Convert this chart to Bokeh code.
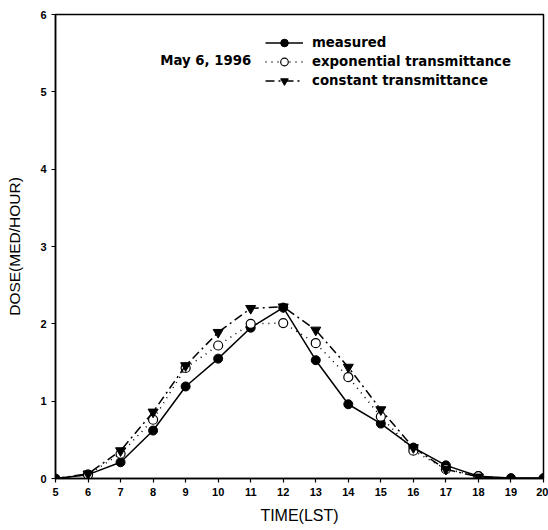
from bokeh.plotting import figure
from bokeh.models import Legend, LegendItem, Label, FixedTicker
from bokeh.embed import file_html
from bokeh.resources import INLINE

# Hourly UV dose, May 6, 1996
hours = [5, 6, 7, 8, 9, 10, 11, 12, 13, 14, 15, 16, 17, 18, 19, 20]
measured = [0.0, 0.05, 0.21, 0.62, 1.19, 1.55, 1.95, 2.21, 1.53, 0.96, 0.71, 0.40, 0.17, 0.03, 0.005, 0.005]
exponential = [0.0, 0.05, 0.32, 0.76, 1.43, 1.72, 2.00, 2.01, 1.75, 1.31, 0.80, 0.36, 0.12, 0.03, 0.0, 0.0]
constant = [0.0, 0.06, 0.36, 0.86, 1.46, 1.89, 2.20, 2.22, 1.92, 1.44, 0.89, 0.40, 0.12, 0.02, 0.0, 0.0]

FONT = "Liberation Sans"
KEY_FONT = "DejaVu Sans"

p = figure(width=548, height=530, x_range=(5, 20), y_range=(0, 6),
           output_backend="svg", toolbar_location=None,
           min_border_left=55, min_border_right=5, min_border_top=14, min_border_bottom=52)
p.background_fill_color = "white"
p.border_fill_color = "white"
p.outline_line_color = "black"
p.outline_line_width = 1.5
p.xgrid.visible = False
p.ygrid.visible = False

for ax in (p.xaxis[0], p.yaxis[0]):
    ax.axis_line_width = 1.5
    ax.axis_line_color = "black"
    ax.major_tick_line_color = "black"
    ax.major_tick_line_width = 1.2
    ax.major_tick_in = 0
    ax.major_tick_out = 4
    ax.minor_tick_line_color = None
    ax.major_label_text_color = "black"
    ax.major_label_text_font = FONT
    ax.major_label_text_font_style = "bold"
    ax.major_label_text_font_size = "11px"
    ax.axis_label_text_color = "black"
    ax.axis_label_text_font = FONT
    ax.axis_label_text_font_style = "normal"
    ax.axis_label_text_font_size = "15.5px"
    ax.major_label_standoff = 5

p.xaxis.ticker = FixedTicker(ticks=list(range(5, 21)))
p.yaxis.ticker = FixedTicker(ticks=list(range(0, 7)))
p.xaxis.axis_label = "TIME(LST)"
p.yaxis.axis_label = "DOSE(MED/HOUR)"
p.xaxis.axis_label_text_font_size = "16px"
p.xaxis.axis_label_standoff = 8
p.yaxis.axis_label_standoff = 14

l1 = p.line(hours, measured, line_color="black", line_width=1.5)
m1 = p.scatter(hours, measured, marker="circle", size=9, fill_color="black", line_color="black")

l2 = p.line(hours, exponential, line_color="black", line_width=1.5, line_dash="1 5")
m2 = p.scatter(hours[1:-2], exponential[1:-2], marker="circle", size=9,
               fill_color="white", line_color="black", line_width=1.2)

l3 = p.line(hours, constant, line_color="black", line_width=1.5, line_dash="9 4 2 4")
m3 = p.scatter(hours[1:-2], constant[1:-2], marker="inverted_triangle", size=10,
               fill_color="black", line_color="black")

legend = Legend(items=[
    LegendItem(label="measured", renderers=[l1, m1]),
    LegendItem(label="exponential transmittance", renderers=[l2, m2]),
    LegendItem(label="constant transmittance", renderers=[l3, m3]),
], location=(210, 388))
legend.border_line_color = None
legend.background_fill_alpha = 0
legend.padding = 4
legend.margin = 0
legend.spacing = 0
legend.glyph_width = 38
legend.glyph_height = 19
legend.label_height = 19
legend.label_standoff = 9
legend.label_text_color = "black"
legend.label_text_font = KEY_FONT
legend.label_text_font_style = "bold"
legend.label_text_font_size = "13.3px"
p.add_layout(legend)

p.add_layout(Label(x=8.22, y=5.405, text="May 6, 1996", text_font=KEY_FONT,
                   text_font_style="bold", text_font_size="13.3px", text_color="black",
                   text_baseline="middle", text_align="left"))

open("out.html", "w").write(file_html(p, INLINE))
